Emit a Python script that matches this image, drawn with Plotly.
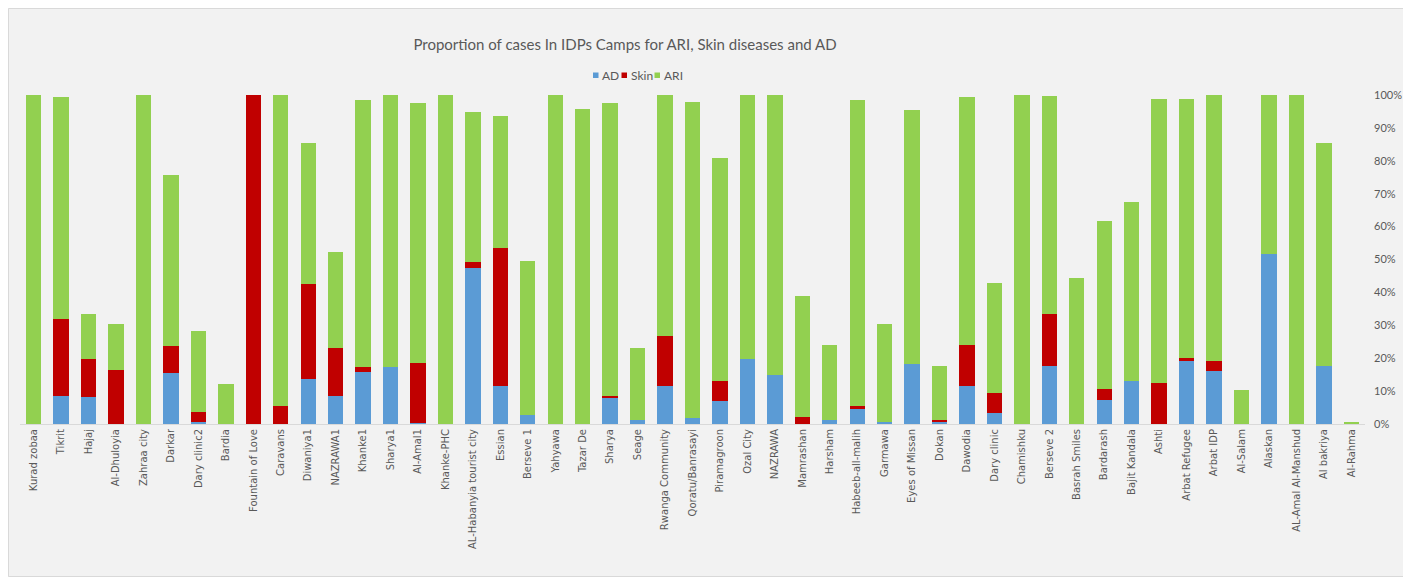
import plotly.graph_objects as go

camps = [
    "Kurad zobaa", "Tikrit", "Hajaj", "Al-Dhuloyia", "Zahraa city", "Darkar",
    "Dary clinic2", "Bardia", "Fountain of Love", "Caravans", "Diwaniya1",
    "NAZRAWA1", "Khanke1", "Sharya1", "Al-Amal1", "Khanke-PHC",
    "AL-Habanyia tourist city", "Essian", "Berseve 1", "Yahyawa", "Tazar De",
    "Sharya", "Seage", "Rwanga Community", "Qoratu/Banrasayi", "Piramagroon",
    "Ozal City", "NAZRAWA", "Mamrashan", "Harsham", "Habeeb-all-malih",
    "Garmawa", "Eyes of Missan", "Dokan", "Dawodia", "Dary clinic",
    "Chamishku", "Berseve 2", "Basrah Smiles", "Bardarash", "Bajit Kandala",
    "Ashti", "Arbat Refugee", "Arbat IDP", "Al-Salam", "Alaskan",
    "AL-Amal Al-Manshud", "Al bakriya", "Al-Rahma",
]

# percentages
ad = [
    0, 8.5, 8.1, 0, 0, 15.5, 0.5, 0, 0, 0, 13.8, 8.5, 15.9, 17.3, 0.4, 0,
    47.5, 11.7, 2.8, 0, 0, 8.1, 1.1, 11.4, 1.8, 7.0, 19.9, 14.9, 0, 1.1, 4.6,
    0.5, 18.2, 0.7, 11.4, 3.2, 0, 17.7, 0, 7.4, 13.1, 0, 19.2, 16.2, 0, 51.8,
    0, 17.7, 0,
]
skin = [
    0, 23.3, 11.8, 16.3, 0, 8.2, 3.0, 0, 100, 5.4, 28.8, 14.5, 1.4, 0, 18.0, 0,
    1.8, 41.8, 0, 0, 0, 0.4, 0, 15.2, 0, 6.2, 0, 0, 2.1, 0, 0.8,
    0, 0, 0.4, 12.7, 6.3, 0, 15.6, 0, 3.1, 0, 12.4, 0.8, 3.0, 0, 0,
    0, 0, 0,
]
ari = [
    100, 67.5, 13.4, 14.1, 100, 52.1, 24.8, 12.1, 0, 94.6, 42.8, 29.4, 81.2,
    82.7, 79.1, 100, 45.6, 40.0, 46.8, 100, 95.6, 89.0, 21.9, 73.4, 96.0,
    67.6, 80.1, 85.1, 36.8, 22.9, 93.1, 29.9, 77.1, 16.6, 75.2, 33.4, 100,
    66.4, 44.3, 51.2, 54.5, 86.5, 78.9, 80.8, 10.2, 48.2, 100, 67.7, 0.7,
]

series = [("AD", ad, "#5B9BD5"), ("Skin", skin, "#C00000"), ("ARI", ari, "#92D050")]

W, H = 1398, 569
L, R, T, B = 12, 41, 87, 153
pw, ph = W - L - R, H - T - B


def px(x):
    return (x - L) / pw


def py(y):
    return (H - B - y) / ph


fig = go.Figure()
for name, vals, color in series:
    fig.add_trace(go.Bar(x=camps, y=vals, name=name, marker_color=color,
                         marker_line_width=0))

# compact legend like the excel one
legend_x = [587.5, 616, 649]
for (name, vals, color), lx in zip(series, legend_x):
    fig.add_shape(type="rect", xref="paper", yref="paper",
                  x0=px(lx - 2.5), x1=px(lx + 3), y0=py(70), y1=py(64.5),
                  line_width=0, fillcolor=color)
    fig.add_annotation(text=name, xref="paper", yref="paper", x=px(lx + 4.5), y=py(67),
                       xanchor="left", yanchor="middle", showarrow=False,
                       font=dict(family="Lato, sans-serif", size=12, color="#595959"))

# outer chart border
fig.add_shape(type="rect", xref="paper", yref="paper",
              x0=px(0.5), x1=px(W - 0.5), y0=py(H - 0.5), y1=py(0.5),
              line=dict(color="#D9D9D9", width=1), fillcolor="rgba(0,0,0,0)", layer="below")

fig.update_layout(
    width=W, height=H,
    barmode="stack", bargap=0.44,
    paper_bgcolor="#F2F2F2", plot_bgcolor="#F2F2F2",
    margin=dict(l=L, r=R, t=T, b=B, autoexpand=False),
    showlegend=False,
    title=dict(
        text="Proportion of cases In IDPs Camps for ARI, Skin diseases and AD",
        x=617 / W, xanchor="center", y=1 - 37 / H, yanchor="middle",
        font=dict(family="Lato, sans-serif", size=15, color="#595959"),
    ),
    xaxis=dict(
        tickangle=-90, showgrid=False, showline=True, linecolor="#D9D9D9",
        linewidth=1, ticks="", tickfont=dict(family="DejaVu Sans", size=10, color="#595959"),
    ),
    yaxis=dict(
        side="right", range=[0, 100], dtick=10, ticksuffix="%", showgrid=False,
        zeroline=False, showline=False, ticklabelstandoff=8,
        tickfont=dict(family="Lato, sans-serif", size=11, color="#595959"),
    ),
)

fig.write_html("out.html")
